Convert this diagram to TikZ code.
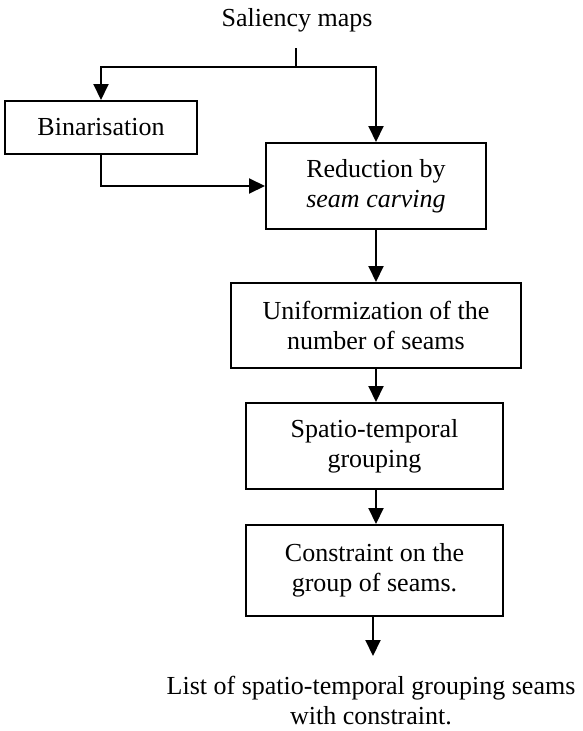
\documentclass[tikz,border=0pt]{standalone}
\usepackage{fontspec}
\setmainfont{Liberation Serif}
\usetikzlibrary{arrows.meta}
\begin{document}
\begin{tikzpicture}[x=1pt,y=1pt,
  every node/.style={font=\fontsize{26}{30}\selectfont, align=center, inner sep=0pt},
  box/.style={draw, line width=2pt, rectangle, minimum width=#1},
  conn/.style={line width=2pt},
  arr/.style={line width=2pt, -{Triangle[length=16pt,width=15pt]}}]
\useasboundingbox (0,0) rectangle (583,-731);
\node (sal) at (297,-20) {Saliency maps};
\node[box=192pt, minimum height=53pt] (bin) at (101,-127.5) {Binarisation};
\node[box=220pt, minimum height=86pt] (red) at (376,-186) {Reduction by\\\textit{seam carving}};
\node[box=290pt, minimum height=85pt] (uni) at (376,-325.5) {Uniformization of the\\number of seams};
\node[box=257pt, minimum height=86pt] (spa) at (374.5,-446) {Spatio-temporal\\grouping};
\node[box=257pt, minimum height=91pt] (con) at (374.5,-570.5) {Constraint on the\\group of seams.};
\node (out) at (371,-701) {List of spatio-temporal grouping seams\\with constraint.};
\coordinate (split) at (296,-67);
\coordinate (top) at (296,-48);
\coordinate (end) at (373,-656);
\draw[conn] (top) -- (split);
\draw[arr] (split) -- (101,-67) -- (bin.north);
\draw[arr] (split) -- (376,-67) -- (red.north);
\draw[arr] (bin.south) -- (bin.south |- red.west) -- (red.west);
\draw[arr] (red.south) -- (uni.north);
\draw[arr] (uni.south) -- (uni.south |- spa.north);
\draw[arr] (uni.south |- spa.south) -- (uni.south |- con.north);
\draw[arr] (con.south) ++(-1.5,0) -- (end);
\end{tikzpicture}
\end{document}
